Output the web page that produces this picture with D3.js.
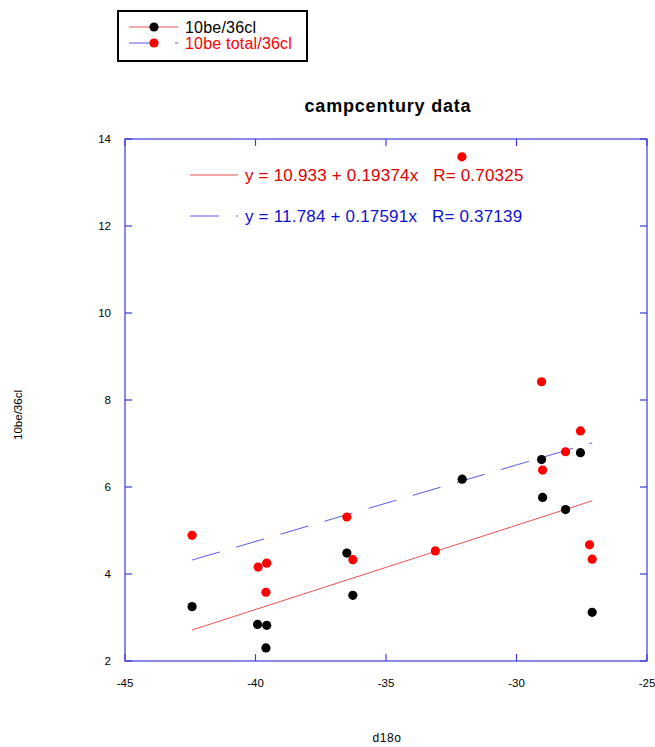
<!DOCTYPE html>
<html><head><meta charset="utf-8">
<script src="https://cdn.jsdelivr.net/npm/d3@7"></script>
<style>body{margin:0;background:#fff}svg{display:block;font-family:"Liberation Sans",Arial,sans-serif}</style>
</head><body><svg id="c" width="655" height="747"></svg>
<script>
const blackX = [-42.43,-39.92,-39.57,-39.6,-36.5,-36.27,-32.08,-29.04,-29.0,-28.12,-27.55,-27.1];
const blackY = [3.25,2.84,2.82,2.30,4.48,3.51,6.18,6.63,5.76,5.48,6.79,3.12];
const redX = [-42.43,-39.9,-39.57,-39.6,-36.5,-36.27,-33.11,-32.09,-29.04,-29.0,-28.12,-27.55,-27.2,-27.1];
const redY = [4.89,4.16,4.25,3.58,5.31,4.33,4.53,13.59,8.42,6.39,6.81,7.29,4.67,4.34];
const fitBlack = {a:10.933, b:0.19374, r:0.70325};
const fitRed = {a:11.784, b:0.17591, r:0.37139};
const xTicks = [-45,-40,-35,-30,-25];
const yTicks = [2,4,6,8,10,12,14];
const seriesNames = ["10be/36cl","10be total/36cl"];

const svg = d3.select("#c");
const L=125,R=647,T=139,B=661;
const x = d3.scaleLinear().domain([-45,-25]).range([L,R]);
const y = d3.scaleLinear().domain([2,14]).range([B,T]);
const axisCol = "#3b3be0";

svg.append("rect").attr("x",L).attr("y",T).attr("width",R-L).attr("height",B-T)
  .attr("fill","none").attr("stroke",axisCol).attr("stroke-width",1.2);

const tl = 7;
const g = svg.append("g").attr("stroke",axisCol).attr("stroke-width",1.2);
xTicks.forEach(t=>{
  g.append("line").attr("x1",x(t)).attr("x2",x(t)).attr("y1",B).attr("y2",B-tl);
  g.append("line").attr("x1",x(t)).attr("x2",x(t)).attr("y1",T).attr("y2",T+tl);
});
yTicks.forEach(t=>{
  g.append("line").attr("x1",L).attr("x2",L+tl).attr("y1",y(t)).attr("y2",y(t));
  g.append("line").attr("x1",R).attr("x2",R-tl).attr("y1",y(t)).attr("y2",y(t));
});
svg.selectAll(".xt").data(xTicks).join("text").attr("x",d=>x(d)).attr("y",B+26)
  .attr("text-anchor","middle").attr("font-size",11.5).text(d=>d);
svg.selectAll(".yt").data(yTicks).join("text").attr("x",L-14).attr("y",d=>y(d)+4)
  .attr("text-anchor","end").attr("font-size",11.5).text(d=>d);

svg.append("text").attr("x",387).attr("y",742).attr("text-anchor","middle").attr("font-size",12).attr("letter-spacing",0.6).text("d18o");
svg.append("text").attr("transform","translate(22,415) rotate(-90)").attr("text-anchor","middle").attr("font-size",11.5).text("10be/36cl");
svg.append("text").attr("x",388).attr("y",112).attr("text-anchor","middle").attr("font-size",18).attr("letter-spacing",0.8).attr("font-weight","bold").text("campcentury data");

const xmin = d3.min(blackX), xmax = d3.max(blackX);
svg.append("line").attr("x1",x(xmin)).attr("x2",x(xmax))
  .attr("y1",y(fitBlack.a+fitBlack.b*xmin)).attr("y2",y(fitBlack.a+fitBlack.b*xmax))
  .attr("stroke","#e85050").attr("stroke-width",1);
svg.append("line").attr("x1",x(xmin)).attr("x2",x(xmax))
  .attr("y1",y(fitRed.a+fitRed.b*xmin)).attr("y2",y(fitRed.a+fitRed.b*xmax))
  .attr("stroke","#5a5ae8").attr("stroke-width",1).attr("stroke-dasharray","29,17");

svg.selectAll(".bp").data(blackX.map((v,i)=>[v,blackY[i]])).join("circle")
  .attr("cx",d=>x(d[0])).attr("cy",d=>y(d[1])).attr("r",4.6).attr("fill","#000");
svg.selectAll(".rp").data(redX.map((v,i)=>[v,redY[i]])).join("circle")
  .attr("cx",d=>x(d[0])).attr("cy",d=>y(d[1])).attr("r",4.6).attr("fill","#ff0000");

svg.append("line").attr("x1",190).attr("x2",238).attr("y1",175).attr("y2",175).attr("stroke","#e85050");
svg.append("text").attr("x",245).attr("y",181).attr("font-size",17).attr("letter-spacing",0.2).attr("fill","#e00000")
  .style("white-space","pre").text(`y = ${fitBlack.a} + ${fitBlack.b}x   R= ${fitBlack.r}`);
svg.append("line").attr("x1",190).attr("x2",238).attr("y1",216).attr("y2",216).attr("stroke","#5a5ae8").attr("stroke-dasharray","29,17");
svg.append("text").attr("x",245).attr("y",222).attr("font-size",17).attr("letter-spacing",0.2).attr("fill","#1010d0")
  .style("white-space","pre").text(`y = ${fitRed.a} + ${fitRed.b}x   R= ${fitRed.r}`);

svg.append("rect").attr("x",118).attr("y",11).attr("width",189).attr("height",50)
  .attr("fill","#fff").attr("stroke","#000").attr("stroke-width",2);
svg.append("line").attr("x1",129).attr("x2",178).attr("y1",27).attr("y2",27).attr("stroke","#e85050");
svg.append("circle").attr("cx",154).attr("cy",27).attr("r",4.6).attr("fill","#000");
svg.append("text").attr("x",185).attr("y",32.5).attr("font-size",16).attr("letter-spacing",0.2).attr("fill","#000").text(seriesNames[0]);
svg.append("line").attr("x1",129).attr("x2",178).attr("y1",43).attr("y2",43).attr("stroke","#5a5ae8").attr("stroke-dasharray","29,17");
svg.append("circle").attr("cx",154).attr("cy",43).attr("r",4.6).attr("fill","#ff0000");
svg.append("text").attr("x",185).attr("y",48.5).attr("font-size",16).attr("letter-spacing",0.2).attr("fill","#ff0000").text(seriesNames[1]);
</script></body></html>
